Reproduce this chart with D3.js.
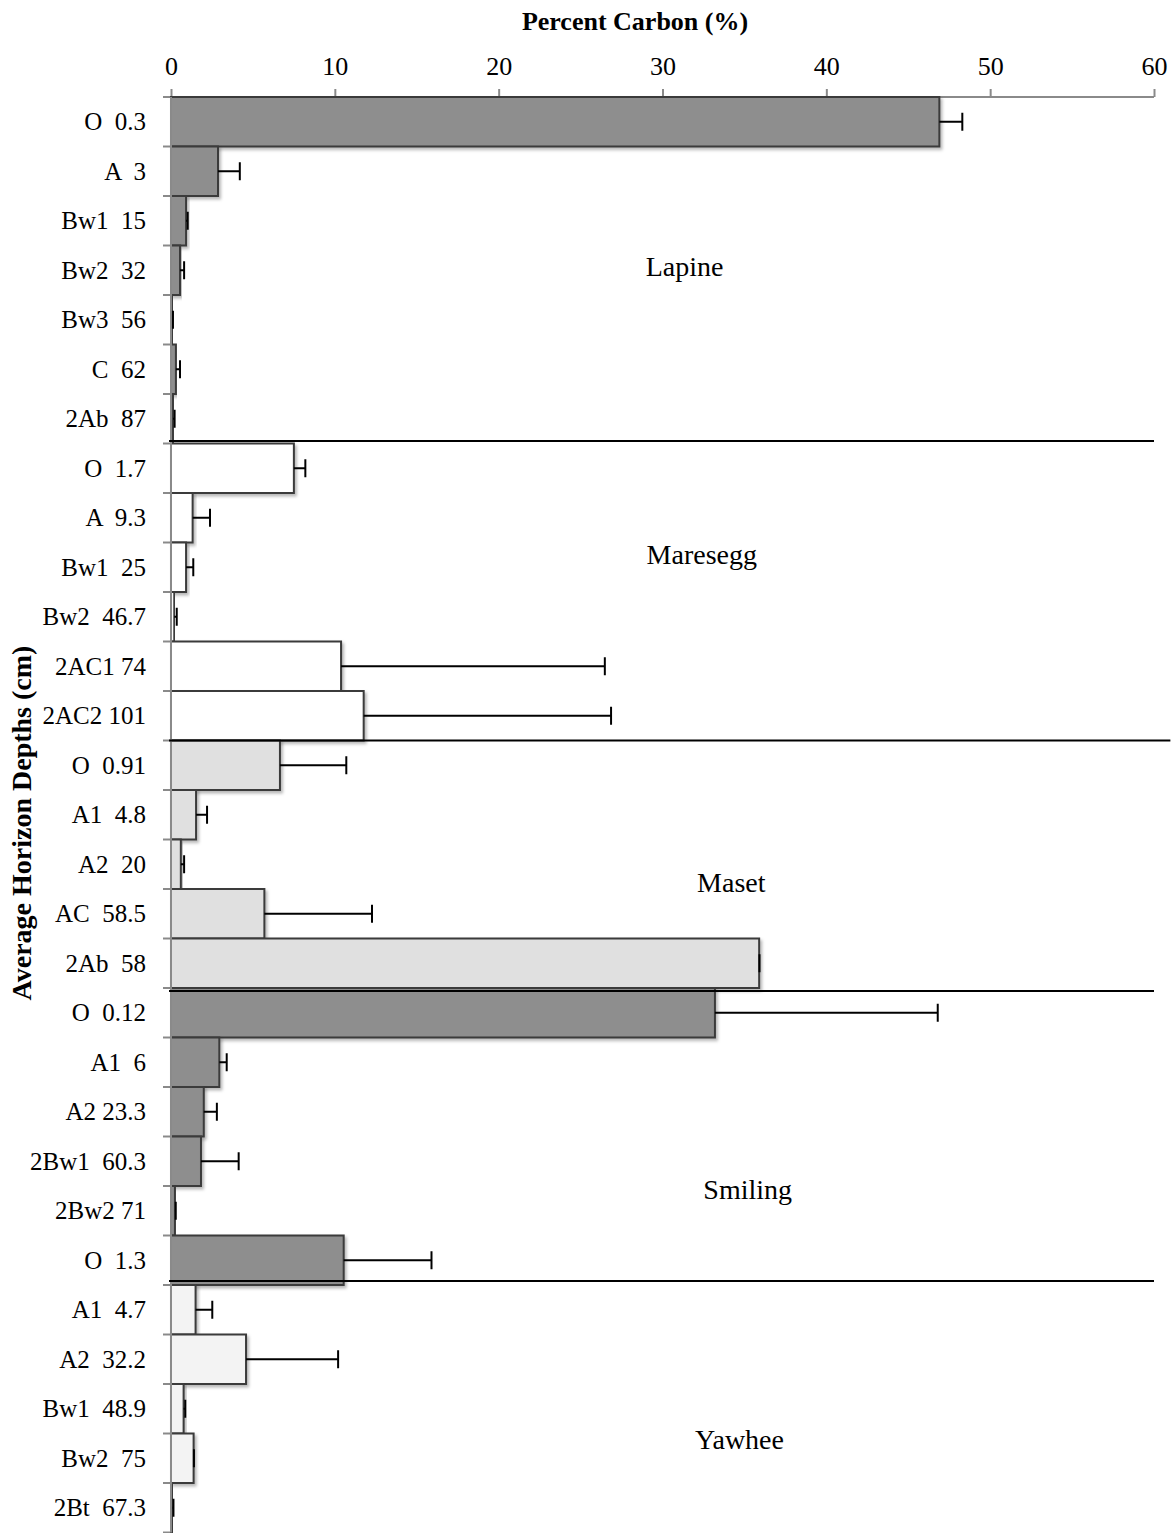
<!DOCTYPE html>
<html>
<head>
<meta charset="utf-8">
<script src="https://cdn.jsdelivr.net/npm/d3@7"></script>
<style>
  html, body { margin: 0; padding: 0; background: #fff; }
  svg { display: block; }
  text { font-family: "Liberation Serif", "Times New Roman", serif; fill: #000; }
</style>
</head>
<body>
<svg id="chart" width="1176" height="1533"></svg>
<script>
// Horizon labels (name + average depth, cm), top to bottom
const horizons = [
  "O  0.3", "A  3", "Bw1  15", "Bw2  32", "Bw3  56", "C  62", "2Ab  87",
  "O  1.7", "A  9.3", "Bw1  25", "Bw2  46.7", "2AC1 74", "2AC2 101",
  "O  0.91", "A1  4.8", "A2  20", "AC  58.5", "2Ab  58",
  "O  0.12", "A1  6", "A2 23.3", "2Bw1  60.3", "2Bw2 71", "O  1.3",
  "A1  4.7", "A2  32.2", "Bw1  48.9", "Bw2  75", "2Bt  67.3"
];
// Soil series each horizon belongs to
const series = [
  "Lapine", "Lapine", "Lapine", "Lapine", "Lapine", "Lapine", "Lapine",
  "Maresegg", "Maresegg", "Maresegg", "Maresegg", "Maresegg", "Maresegg",
  "Maset", "Maset", "Maset", "Maset", "Maset",
  "Smiling", "Smiling", "Smiling", "Smiling", "Smiling", "Smiling",
  "Yawhee", "Yawhee", "Yawhee", "Yawhee", "Yawhee"
];
// Mean percent carbon
const carbon = [
  46.9, 2.87, 0.92, 0.55, 0.07, 0.3, 0.12,
  7.5, 1.32, 0.92, 0.2, 10.38, 11.76,
  6.65, 1.53, 0.6, 5.7, 35.9,
  33.2, 2.95, 2.0, 1.83, 0.24, 10.54,
  1.5, 4.58, 0.77, 1.38, 0.1
];
// Upper error (standard deviation)
const carbonErr = [
  1.4, 1.33, 0.1, 0.25, 0.05, 0.25, 0.1,
  0.7, 1.06, 0.44, 0.15, 16.1, 15.1,
  4.05, 0.67, 0.2, 6.57, 0.02,
  13.6, 0.45, 0.8, 2.3, 0.05, 5.36,
  1.02, 5.62, 0.1, 0.02, 0.05
];
// Fill per soil series
const seriesNames = ["Lapine", "Maresegg", "Maset", "Smiling", "Yawhee"];
const seriesFills = ["#8e8e8e", "#ffffff", "#e0e0e0", "#8e8e8e", "#f3f3f3"];
// Series name annotations: value position (x) and row position (y, in band units)
const seriesLabelX = [31.35, 32.4, 34.2, 35.2, 34.7];
const seriesLabelRow = [3.43, 9.25, 15.86, 22.08, 27.13];
// Divider lines between series: row position and right-hand extent (value)
const dividerRow = [6.95, 13.0, 18.06, 23.92];
const dividerEnd = [60, 61, 60, 60];
const xTicks = [0, 10, 20, 30, 40, 50, 60];

const svg = d3.select("#chart");
const margin = { top: 97, left: 171, right: 22 };
const width = 1176 - margin.left - margin.right;
const bandH = 49.5;
const height = horizons.length * bandH;

const idx = d3.range(horizons.length);
const x = d3.scaleLinear().domain([0, 60]).range([0, width]);
const y = d3.scaleBand().domain(idx).range([0, height]).padding(0);
const row = d3.scaleLinear().domain([0, horizons.length]).range([0, height]);
const fill = d3.scaleOrdinal().domain(seriesNames).range(seriesFills);

const defs = svg.append("defs");
const shadow = defs.append("filter").attr("id", "shadow")
  .attr("x", "-10%").attr("y", "-10%").attr("width", "130%").attr("height", "140%");
shadow.append("feDropShadow").attr("dx", 2).attr("dy", 2.5)
  .attr("stdDeviation", 1.6).attr("flood-color", "#000").attr("flood-opacity", 0.28);

const g = svg.append("g").attr("transform", `translate(${margin.left},${margin.top})`);

// Top value axis
const xAxis = g.append("g").call(
  d3.axisTop(x).tickValues(xTicks).tickSize(8).tickPadding(14).tickFormat(d3.format("d"))
);
xAxis.select(".domain").attr("stroke", "#8a8a8a").attr("stroke-width", 2)
  .attr("d", `M0,0H${width}`);
xAxis.selectAll(".tick line").attr("stroke", "#8a8a8a").attr("stroke-width", 2);
xAxis.selectAll(".tick text").attr("font-size", 26)
  .style("font-family", "'Liberation Serif', serif");

// Left category axis
const yAxis = g.append("g").call(
  d3.axisLeft(y).tickSize(0).tickPadding(25).tickFormat(i => horizons[i])
);
yAxis.select(".domain").remove();
yAxis.selectAll(".tick text").attr("font-size", 25)
  .attr("dy", "0.34em").style("white-space", "pre").attr("xml:space", "preserve");

// Band boundary ticks
g.append("g").selectAll("line").data(d3.range(horizons.length + 1)).join("line")
  .attr("x1", -8).attr("x2", 0)
  .attr("y1", d => row(d)).attr("y2", d => row(d))
  .attr("stroke", "#8a8a8a").attr("stroke-width", 2);

// Bars
g.append("g").selectAll("rect").data(idx).join("rect")
  .attr("x", 0)
  .attr("y", i => y(i))
  .attr("width", i => x(carbon[i]))
  .attr("height", y.bandwidth())
  .attr("fill", i => fill(series[i]))
  .attr("stroke", "#3a3a3a").attr("stroke-width", 2)
  .attr("filter", "url(#shadow)");

// Vertical axis line (drawn over bar edges)
g.append("line").attr("x1", 0).attr("x2", 0).attr("y1", 0).attr("y2", height)
  .attr("stroke", "#8a8a8a").attr("stroke-width", 2);

// Error bars
const err = g.append("g").attr("stroke", "#000").attr("stroke-width", 2);
err.selectAll("line.stem").data(idx).join("line").attr("class", "stem")
  .attr("x1", i => x(carbon[i])).attr("x2", i => x(carbon[i] + carbonErr[i]))
  .attr("y1", i => y(i) + y.bandwidth() / 2).attr("y2", i => y(i) + y.bandwidth() / 2);
err.selectAll("line.cap").data(idx).join("line").attr("class", "cap")
  .attr("x1", i => x(carbon[i] + carbonErr[i])).attr("x2", i => x(carbon[i] + carbonErr[i]))
  .attr("y1", i => y(i) + y.bandwidth() / 2 - 9).attr("y2", i => y(i) + y.bandwidth() / 2 + 9);

// Series dividers
g.append("g").selectAll("line").data(d3.range(dividerRow.length)).join("line")
  .attr("x1", -2).attr("x2", k => x(dividerEnd[k]))
  .attr("y1", k => row(dividerRow[k])).attr("y2", k => row(dividerRow[k]))
  .attr("stroke", "#000").attr("stroke-width", 2);

// Series names
g.append("g").selectAll("text").data(d3.range(seriesNames.length)).join("text")
  .attr("x", k => x(seriesLabelX[k]))
  .attr("y", k => row(seriesLabelRow[k]))
  .attr("dy", "0.34em")
  .attr("text-anchor", "middle")
  .attr("font-size", 28)
  .text(k => seriesNames[k]);

// Axis titles
svg.append("text").attr("x", 635).attr("y", 30)
  .attr("text-anchor", "middle").attr("font-size", 26).attr("font-weight", "bold")
  .text("Percent Carbon (%)");
svg.append("text")
  .attr("transform", "translate(31,823) rotate(-90)")
  .attr("text-anchor", "middle").attr("font-size", 28).attr("font-weight", "bold")
  .text("Average Horizon Depths (cm)");
</script>
</body>
</html>
